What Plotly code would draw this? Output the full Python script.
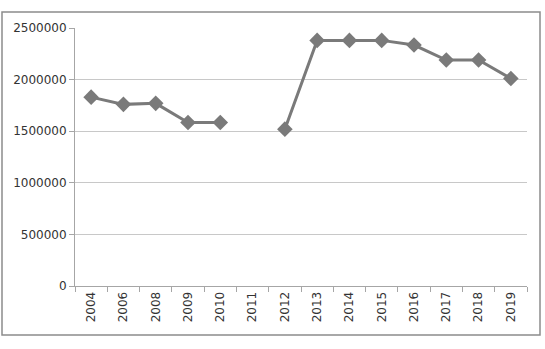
import plotly.graph_objects as go

years = ["2004", "2006", "2008", "2009", "2010", "2011", "2012", "2013",
         "2014", "2015", "2016", "2017", "2018", "2019"]
values = [1830000, 1760000, 1770000, 1585000, 1585000, None, 1520000, 2380000,
          2380000, 2380000, 2335000, 2190000, 2190000, 2010000]
y_ticks = [0, 500000, 1000000, 1500000, 2000000, 2500000]

W, H = 545, 349
L, R, T, B = 75, 18, 28, 63
pw, ph = W - L - R, H - T - B

fig = go.Figure()
fig.add_trace(go.Scatter(
    x=years, y=values, mode="lines+markers",
    line=dict(color="#7a7a7a", width=3),
    marker=dict(symbol="diamond", size=12, color="#7a7a7a"),
    connectgaps=False, showlegend=False,
))

def px(x):
    return (x - L) / pw

def py(y):
    return (H - B - y) / ph

fig.add_shape(type="rect", xref="paper", yref="paper",
              x0=px(2), x1=px(540), y0=py(335), y1=py(12),
              line=dict(color="#8c8c8c", width=1.5), layer="below")

fig.update_layout(
    width=W, height=H,
    margin=dict(l=L, r=R, t=T, b=B),
    paper_bgcolor="white", plot_bgcolor="white",
    font=dict(family="DejaVu Sans, sans-serif", size=12, color="#333333"),
    xaxis=dict(type="category", tickangle=-90, showgrid=False,
               range=[-0.5, len(years) - 0.5],
               showline=True, linecolor="#a6a6a6", linewidth=1,
               ticks="outside", ticklen=5, tickcolor="#a6a6a6",
               tickson="boundaries", tickfont=dict(size=12, color="#333333")),
    yaxis=dict(range=[0, 2500000], tickvals=y_ticks,
               ticktext=[str(v) for v in y_ticks],
               showgrid=True, gridcolor="#c8c8c8", gridwidth=1,
               showline=True, linecolor="#a6a6a6", linewidth=1,
               ticks="outside", ticklen=5, tickcolor="#a6a6a6",
               zeroline=False, tickfont=dict(size=12, color="#333333")),
)

fig.write_html("out.html")
